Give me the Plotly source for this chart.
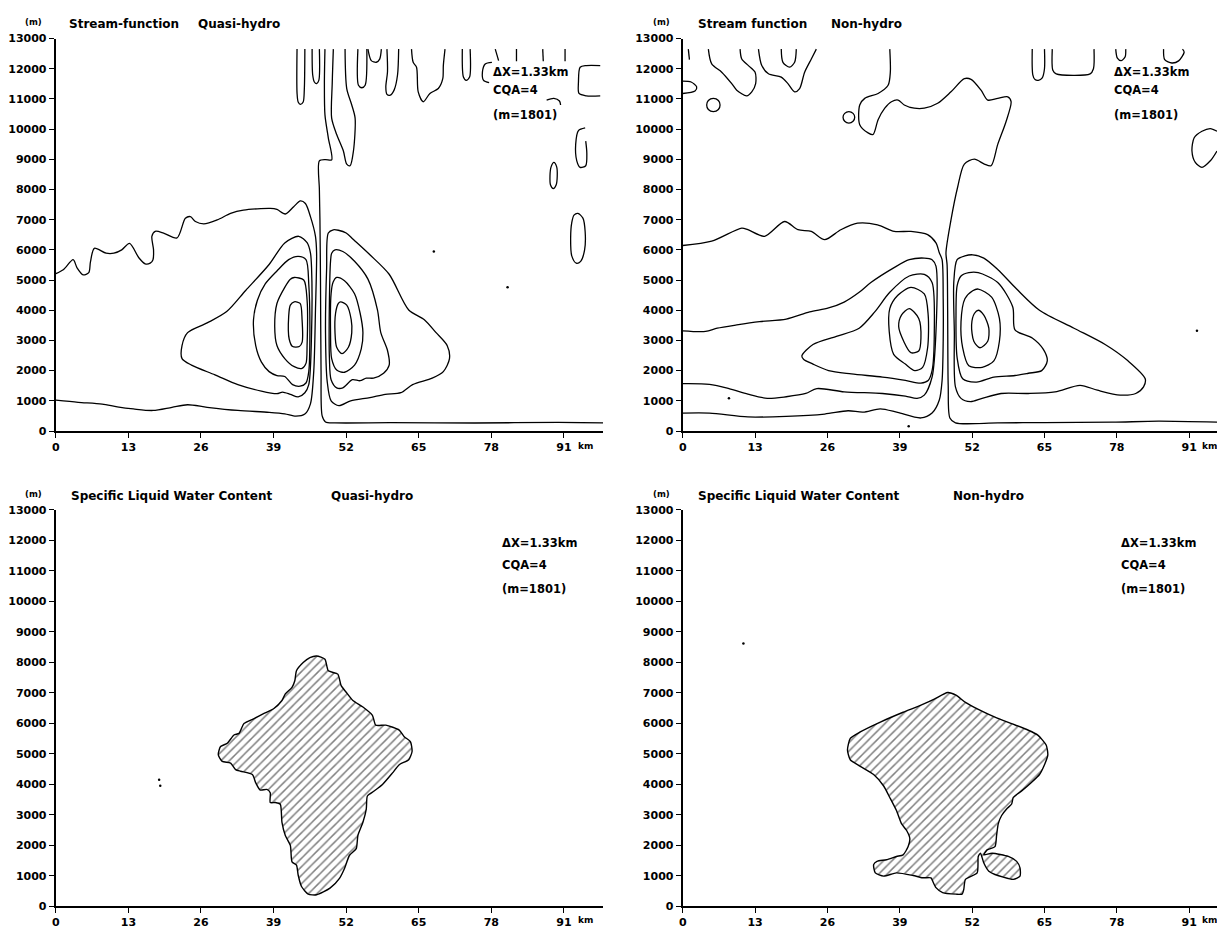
import plotly.graph_objects as go

# ---------------- axis ticks ----------------
X_TICKS = [0, 13, 26, 39, 52, 65, 78, 91]
X_TICK_TEXT = ["0", "13", "26", "39", "52", "65", "78", "91"]
Y_TICKS = [0, 1000, 2000, 3000, 4000, 5000, 6000, 7000, 8000, 9000, 10000, 11000, 12000, 13000]
Y_TICK_TEXT = [str(v) for v in Y_TICKS]

# ---------------- Panel 1: Stream-function, Quasi-hydro (km, m) ----------------
TL_AB_X = [0, 4, 8.3, 11, 13.9, 17.4, 20.8, 23.6, 27.1, 32.6, 38.2, 41.0, 43.0, 44.6, 45.6, 46.2, 46.5, 46.7, 46.5, 45.6, 44.7, 43.8, 42.6, 41.1, 39.6, 38.4, 33.6, 31.3, 28.9, 26.5, 25.0, 24.1, 23.2, 21.7, 19.3, 17.8, 17.2, 17.5, 17.4, 16.9, 16.0, 14.9, 13.2, 11.8, 10.4, 9.0, 6.9, 6.2, 5.9, 4.9, 3.8, 3.1, 1.4, 0]
TL_AB_Y = [1020, 950, 890, 800, 730, 680, 785, 870, 785, 680, 620, 570, 490, 560, 900, 2000, 4000, 5905, 6450, 7102, 7537, 7625, 7428, 7188, 7340, 7374, 7318, 7210, 6992, 6862, 6939, 7102, 7047, 6395, 6558, 6613, 6450, 6000, 5676, 5560, 5536, 5730, 6213, 6000, 5890, 5890, 6052, 5600, 5246, 5171, 5407, 5676, 5353, 5214]
TL_L1_X = [42.7, 43.75, 44.1, 44.1, 43.6, 42.4, 41.8, 41.7, 42.0, 42.7]
TL_L1_Y = [4280, 4225, 3690, 2935, 2800, 2800, 3040, 3795, 4170, 4280]
TL_L2_X = [42.7, 44.4, 45.0, 45.0, 44.8, 44.1, 42.7, 41.0, 39.6, 39.2, 39.6, 41.0, 42.0, 42.7]
TL_L2_Y = [5085, 5000, 4330, 2830, 2240, 2075, 2130, 2400, 2830, 3470, 4225, 4760, 5030, 5085]
TL_L3_X = [43.4, 44.8, 45.3, 45.5, 45.3, 44.8, 43.75, 42.4, 41.0, 39.6, 38.2, 36.8, 35.8, 35.4, 36.1, 37.5, 39.6, 41.7, 43.4]
TL_L3_Y = [5785, 5675, 4870, 3257, 1967, 1590, 1485, 1537, 1806, 1838, 1967, 2290, 2827, 3687, 4332, 4870, 5300, 5676, 5785]
TL_L4_X = [43.5, 41.0, 38.2, 34.0, 30.6, 27.1, 23.6, 22.6, 22.6, 24.3, 28.5, 32.6, 36.8, 39.6, 40.6, 42.0, 43.4, 44.6, 45.3, 45.8, 45.8, 45.6, 45.0, 43.5]
TL_L4_Y = [6450, 6230, 5515, 4655, 3956, 3580, 3257, 2827, 2397, 2182, 1860, 1537, 1322, 1236, 1290, 1215, 1129, 1268, 1537, 3257, 5400, 5900, 6236, 6450]
TL_R1_X = [51.0, 52.1, 52.9, 53.0, 52.4, 51.25, 50.3, 50.0, 50.1, 50.6, 51.0]
TL_R1_Y = [4280, 4170, 3687, 3257, 2773, 2560, 2773, 3257, 3900, 4225, 4280]
TL_R2_X = [50.3, 51.7, 53.5, 54.5, 55.0, 54.7, 53.5, 51.7, 50.3, 49.4, 49.2, 49.3, 49.65, 50.3]
TL_R2_Y = [5085, 4977, 4547, 3900, 3257, 2720, 2182, 1946, 2020, 2397, 3257, 4547, 4924, 5085]
TL_R3_X = [50.0, 51.4, 53.5, 55.9, 57.6, 58.2, 59.4, 59.7, 58.7, 56.9, 55.6, 54.5, 53.1, 51.4, 50.3, 49.3, 49.0, 49.0, 49.2, 49.4, 50.0]
TL_R3_Y = [6000, 5945, 5622, 5030, 4010, 3257, 2666, 2182, 1913, 1752, 1752, 1666, 1700, 1430, 1430, 1700, 2397, 4332, 5622, 5890, 6000]
TL_R4_X = [49.7, 50.6, 52.0, 53.3, 56.25, 59.7, 63.2, 66.0, 68.1, 70.1, 70.5, 69.4, 67.4, 63.9, 61.8, 59.0, 56.25, 52.8, 50.7, 49.3, 48.6, 48.3, 48.5, 48.8, 49.7]
TL_R4_Y = [6666, 6650, 6560, 6340, 5837, 5192, 4010, 3687, 3257, 2827, 2397, 1967, 1752, 1537, 1268, 1215, 1107, 1000, 838, 1000, 1645, 3257, 5400, 6558, 6666]
TL_V_X = [98, 90, 75, 60, 50, 48.3, 47.7, 47.5, 47.4, 47.3, 47.2, 47.2, 48.3, 49.4, 48.8, 48.2, 48.1, 48.2]
TL_V_Y = [270, 285, 265, 275, 270, 300, 500, 2000, 5000, 7000, 8000, 8950, 8990, 8980, 9712, 10473, 11500, 12650]
TL_U1_X = [43.2, 43.2, 43.4, 43.8, 44.3, 44.5, 44.6]
TL_U1_Y = [12650, 11200, 10900, 10822, 10900, 11300, 12650]
TL_U2_X = [45.9, 46.0, 46.3, 46.7, 47.1, 47.2]
TL_U2_Y = [12650, 11800, 11560, 11507, 11615, 12650]
TL_U3_X = [49.7, 49.5, 49.4, 50.3, 51.5, 52.1, 52.7, 53.3, 53.6, 53.0, 52.1, 51.8]
TL_U3_Y = [12650, 11500, 10364, 9820, 9275, 8840, 8787, 9275, 10364, 10800, 11344, 12650]
TL_U4_X = [54.1, 54.2, 54.8, 55.4, 55.7]
TL_U4_Y = [12650, 11453, 11370, 11453, 12650]
TL_U5_X = [55.9, 56.5, 57.4, 58.0, 58.3]
TL_U5_Y = [12650, 12270, 12215, 12320, 12650]
TL_U6_X = [59.3, 59.4, 59.1, 59.3, 59.9, 60.6, 61.2, 61.4]
TL_U6_Y = [12650, 11900, 11400, 11150, 11125, 11300, 11800, 12650]
TL_U7_X = [63.7, 64.0, 64.6, 64.9, 65.8, 67.0, 68.5, 69.3, 69.4, 69.7]
TL_U7_Y = [12650, 12213, 12050, 11235, 10907, 11180, 11344, 11670, 12104, 12650]
TL_U8_X = [72.8, 73.0, 73.5, 74.1, 74.2]
TL_U8_Y = [12650, 11724, 11615, 11724, 12650]
TL_B9_X = [78.1, 76.9, 76.4, 76.6, 77.6]
TL_B9_Y = [12213, 12160, 11886, 11615, 11540]
TL_TICKS_X = [78.7, 79.3, None, 82.5, 82.5, None, 87.2, 87.3, None, 91.2, 91.2]
TL_TICKS_Y = [12650, 12267, None, 12650, 12250, None, 12650, 12250, None, 12650, 12250]
TL_ARC_X = [87.9, 89.2, 90.2, 90.4]
TL_ARC_Y = [10962, 11018, 10930, 10800]
TL_B12_X = [97.5, 95.0, 93.9, 93.6, 93.7, 95.0, 97.5]
TL_B12_Y = [12104, 12104, 12050, 11560, 11180, 11102, 11102]
TL_C13_X = [94.8, 93.6, 93.1, 93.3, 93.9, 94.9, 95.1, 94.9]
TL_C13_Y = [10040, 9950, 9494, 8950, 8734, 8787, 9200, 9600]
TL_E14_X = [89.2, 89.7, 89.8, 89.6, 89.1, 88.6, 88.5, 88.7, 89.2]
TL_E14_Y = [8900, 8750, 8450, 8150, 8030, 8150, 8450, 8750, 8900]
TL_E15_X = [93.5, 94.4, 94.8, 94.7, 94.0, 93.2, 92.4, 92.2, 92.4, 92.8, 93.5]
TL_E15_Y = [7210, 7050, 6600, 6000, 5620, 5560, 5800, 6400, 6900, 7150, 7210]
TL_DOTS_X = [67.7, 80.9]
TL_DOTS_Y = [5945, 4760]

# ---------------- Panel 2: Stream function, Non-hydro ----------------
TR_C1_X = [0, 4.8, 11.7, 18.6, 25.5, 29.7, 32.4, 35.5, 38.6, 42.8, 44.8, 46.1, 46.6, 46.8, 46.8, 46.6, 46.1, 45.5, 44.0, 41.0, 38.0, 35.0, 31.4, 28.4, 25.5, 23.1, 20.7, 18.3, 14.7, 11.7, 10.6, 5.2, 0]
TR_C1_Y = [595, 595, 465, 486, 562, 670, 627, 735, 616, 432, 595, 1027, 1675, 3000, 4378, 5675, 5905, 6232, 6504, 6612, 6612, 6830, 6884, 6667, 6341, 6612, 6667, 6939, 6450, 6667, 6721, 6287, 6144]
TR_C2_X = [0, 4.8, 8.3, 11.7, 15.2, 18.6, 22.1, 24.1, 29.0, 35.9, 40.0, 42.1, 43.4, 44.8, 45.5, 45.5, 44.8, 43.4, 40.7, 37.9, 33.8, 31.7, 29.0, 26.2, 22.8, 18.6, 13.8, 9.7, 6.2, 4.1, 0]
TR_C2_Y = [1567, 1546, 1405, 1222, 1081, 1135, 1243, 1405, 1297, 1243, 1157, 1081, 1189, 1784, 3297, 5459, 5675, 5729, 5675, 5405, 4919, 4594, 4270, 4075, 3946, 3708, 3621, 3513, 3405, 3297, 3318]
TR_L3_X = [21.4, 23.4, 27.6, 31.7, 34.5, 37.2, 40.7, 43.4, 44.8, 45.2, 44.8, 44.1, 42.8, 40.0, 35.9, 30.3, 26.2, 23.4, 21.7, 21.4]
TR_L3_Y = [2486, 2865, 3135, 3405, 3946, 4594, 5135, 5189, 4919, 3297, 2000, 1675, 1589, 1675, 1784, 1892, 2000, 2216, 2378, 2486]
TR_L2_X = [41.0, 43.4, 44.1, 44.0, 43.1, 41.7, 40.0, 37.9, 37.1, 37.2, 38.6, 41.0]
TR_L2_Y = [4756, 4540, 3838, 2757, 2108, 2000, 2216, 2540, 3297, 4054, 4486, 4756]
TR_L1_X = [40.7, 42.4, 42.8, 42.4, 41.0, 39.7, 38.8, 39.3, 40.7]
TR_L1_Y = [4054, 3729, 3081, 2648, 2594, 2973, 3459, 3838, 4054]
TR_R1_X = [53.1, 54.1, 55.0, 54.8, 53.4, 52.3, 51.9, 52.4, 53.1]
TR_R1_Y = [4000, 3838, 3405, 2973, 2757, 2973, 3513, 3892, 4000]
TR_R2_X = [53.1, 55.5, 56.9, 56.9, 55.9, 53.8, 51.4, 50.3, 50.0, 50.7, 52.1, 53.1]
TR_R2_Y = [4702, 4432, 3729, 2973, 2324, 2108, 2162, 2757, 3621, 4378, 4648, 4702]
TR_R3_X = [53.1, 56.6, 59.3, 59.7, 62.8, 64.8, 65.5, 64.5, 62.1, 59.7, 55.9, 52.8, 50.3, 49.3, 49.1, 49.3, 50.0, 51.4, 53.1]
TR_R3_Y = [5243, 4919, 4108, 3351, 3081, 2703, 2324, 2000, 1913, 1838, 1784, 1622, 1730, 2432, 3838, 4810, 5135, 5243, 5243]
TR_R4_X = [52.1, 54.1, 56.6, 60.0, 64.1, 70.3, 75.9, 80.0, 83.1, 82.8, 81.4, 78.6, 74.5, 71.4, 66.9, 62.1, 57.2, 53.8, 51.7, 50.0, 49.0, 48.8, 48.7, 49.3, 50.7, 52.1]
TR_R4_Y = [5837, 5729, 5351, 4702, 4000, 3405, 2865, 2324, 1730, 1459, 1243, 1189, 1351, 1513, 1297, 1243, 1243, 1081, 973, 1081, 1459, 3297, 4919, 5675, 5800, 5837]
TR_V_X = [96, 85.5, 77.2, 65, 56.6, 49.0, 48.0, 47.7, 47.6, 47.5, 47.3, 48.2, 49.4, 50.6, 52.4, 54.2, 55.4, 56.6, 58.1, 59.0, 58.4, 56.6, 54.8, 53.6, 51.8, 50.6, 48.2, 45.8, 43.4, 41.6, 39.8, 38.7, 37.5, 36.3, 35.1, 34.2, 33.3, 31.8, 31.8, 32.7, 35.1, 36.9, 37.3, 37.2]
TR_V_Y = [292, 324, 292, 280, 270, 270, 432, 1500, 4000, 5500, 5905, 6992, 8082, 8842, 9005, 8842, 8787, 9494, 10254, 10907, 11070, 11018, 10962, 11289, 11648, 11670, 11234, 10855, 10692, 10692, 10800, 10962, 10907, 10692, 10310, 9820, 9876, 10147, 10800, 11018, 11181, 11452, 11886, 12650]
TR_T0_X = [1.0, 1.2]
TR_T0_Y = [12650, 12300]
TR_T1_X = [0, 1.5, 2.5, 2.2, 0]
TR_T1_Y = [11590, 11560, 11400, 11260, 11180]
TR_T2_X = [5.5, 6.4, 6.7, 6.4, 5.5, 4.6, 4.3, 4.6, 5.5]
TR_T2_Y = [11018, 10950, 10800, 10650, 10580, 10650, 10800, 10950, 11018]
TR_T3_X = [4.6, 5.2, 7.0, 8.8, 9.7, 11.5, 12.4, 13.1, 13.0, 11.8, 10.6, 10.3]
TR_T3_Y = [12650, 12160, 11886, 11507, 11289, 11102, 11234, 11507, 11886, 12104, 12323, 12650]
TR_T4_X = [13.6, 14.2, 15.4, 17.7, 18.9, 20.1, 21.0, 21.9, 23.1, 24.0]
TR_T4_Y = [12650, 12104, 11833, 11724, 11507, 11234, 11342, 11886, 12323, 12650]
TR_T5_X = [17.7, 18.0, 19.2, 20.1, 20.4]
TR_T5_Y = [12650, 12213, 12050, 12213, 12650]
TR_T6_X = [29.85, 30.6, 30.9, 30.6, 29.85, 29.1, 28.8, 29.1, 29.85]
TR_T6_Y = [10580, 10520, 10390, 10260, 10200, 10260, 10390, 10520, 10580]
TR_T7_X = [62.8, 62.9, 63.3, 63.9, 64.6, 65.0, 65.0]
TR_T7_Y = [12650, 11800, 11640, 11615, 11700, 12000, 12650]
TR_T8_X = [66.4, 66.5, 67.1, 73.2, 73.8, 73.9]
TR_T8_Y = [12650, 11950, 11830, 11830, 12000, 12650]
TR_T9_X = [77.8, 78.1, 78.8, 79.5, 79.6]
TR_T9_Y = [12650, 12350, 12267, 12400, 12650]
TR_T10_X = [86.4, 86.6, 87.9, 89.1, 90.1, 89.8]
TR_T10_Y = [12650, 12300, 12190, 12260, 12550, 12650]
TR_T11_X = [96, 94.8, 93.3, 91.9, 91.5, 92.1, 93.3, 94.8, 96]
TR_T11_Y = [9928, 10016, 9928, 9713, 9276, 8897, 8734, 8950, 9276]
TR_DOTS_X = [92.4, 8.3, 40.6]
TR_DOTS_Y = [3318, 1081, 160]

# ---------------- Panel 3: Liquid water, Quasi-hydro ----------------
BL_X = [46.7, 48.2, 48.8, 50.5, 51.1, 52.0, 53.2, 55.0, 56.7, 57.3, 59.1, 61.5, 62.4, 63.5, 63.8, 63.2, 61.5, 60.3, 58.5, 57.0, 55.8, 55.6, 55.0, 54.1, 53.8, 52.6, 51.7, 50.8, 49.1, 46.7, 45.2, 44.0, 43.4, 43.1, 42.3, 42.0, 41.1, 40.5, 40.2, 39.3, 38.4, 38.4, 37.8, 36.6, 35.8, 35.2, 33.1, 32.2, 31.3, 29.8, 29.1, 29.5, 30.7, 31.9, 32.8, 33.7, 35.5, 37.2, 39.0, 40.5, 41.1, 42.3, 42.8, 43.1, 44.3, 45.5, 46.7]
BL_Y = [8208, 8100, 7722, 7614, 7236, 7020, 6750, 6534, 6264, 5940, 5940, 5778, 5562, 5400, 5076, 4806, 4644, 4374, 3996, 3780, 3618, 3186, 2754, 2322, 1890, 1674, 1242, 918, 594, 378, 400, 648, 1026, 1350, 1458, 1998, 2322, 2754, 3348, 3402, 3402, 3726, 3834, 3812, 4050, 4320, 4428, 4482, 4698, 4752, 4968, 5238, 5346, 5616, 5670, 5994, 6156, 6318, 6480, 6750, 6966, 7182, 7398, 7722, 7992, 8154, 8208]
BL_DOTS_X = [18.5, 18.7]
BL_DOTS_Y = [4150, 3950]

# ---------------- Panel 4: Liquid water, Non-hydro ----------------
BR_X = [47.6, 49.1, 50.8, 53.2, 56.1, 59.1, 62.1, 63.8, 65.3, 65.6, 65.0, 64.1, 62.6, 60.9, 59.4, 59.1, 58.2, 57.3, 56.7, 56.4, 56.1, 54.7, 54.1, 55.6, 58.5, 60.0, 60.6, 60.6, 59.4, 56.1, 55.0, 54.1, 53.5, 53.1, 52.9, 50.8, 50.5, 50.2, 49.1, 46.7, 45.5, 44.9, 44.6, 43.1, 41.4, 38.4, 36.1, 34.6, 34.3, 34.9, 36.6, 38.4, 39.6, 40.5, 40.8, 40.2, 39.3, 38.4, 37.2, 36.1, 34.3, 31.9, 30.1, 29.6, 30.1, 31.9, 35.5, 39.6, 42.6, 45.2, 47.6]
BR_Y = [7009, 6923, 6687, 6450, 6203, 5988, 5773, 5612, 5289, 4967, 4644, 4322, 4053, 3784, 3569, 3354, 3193, 2978, 2709, 2333, 1957, 1849, 1688, 1742, 1634, 1473, 1258, 989, 882, 1043, 1150, 1419, 1742, 1634, 1096, 882, 559, 398, 398, 451, 613, 828, 935, 935, 1011, 1097, 989, 1097, 1365, 1473, 1527, 1634, 1688, 1957, 2225, 2494, 2709, 3139, 3569, 3945, 4322, 4590, 4805, 5128, 5504, 5719, 6042, 6364, 6579, 6794, 7009]
BR_DOTS_X = [10.9]
BR_DOTS_Y = [8622]

# ---------------- figure ----------------
W, H = 1217, 934
FONT = "DejaVu Sans"
fig = go.Figure()

def line(xs, ys, ax, smooth=True):
    fig.add_trace(go.Scatter(x=xs, y=ys, mode="lines", xaxis=ax[0], yaxis=ax[1],
                             line=dict(color="black", width=1.3,
                                       shape="spline" if smooth else "linear", smoothing=0.8),
                             hoverinfo="skip", showlegend=False))

def dots(xs, ys, ax):
    fig.add_trace(go.Scatter(x=xs, y=ys, mode="markers", xaxis=ax[0], yaxis=ax[1],
                             marker=dict(color="black", size=2.5), hoverinfo="skip", showlegend=False))

A1, A2, A3, A4 = ("x", "y"), ("x2", "y2"), ("x3", "y3"), ("x4", "y4")

for xs, ys in [(TL_AB_X, TL_AB_Y), (TL_L1_X, TL_L1_Y), (TL_L2_X, TL_L2_Y), (TL_L3_X, TL_L3_Y),
               (TL_L4_X, TL_L4_Y), (TL_R1_X, TL_R1_Y), (TL_R2_X, TL_R2_Y), (TL_R3_X, TL_R3_Y),
               (TL_R4_X, TL_R4_Y), (TL_V_X, TL_V_Y), (TL_U1_X, TL_U1_Y), (TL_U2_X, TL_U2_Y),
               (TL_U3_X, TL_U3_Y), (TL_U4_X, TL_U4_Y), (TL_U5_X, TL_U5_Y), (TL_U6_X, TL_U6_Y),
               (TL_U7_X, TL_U7_Y), (TL_U8_X, TL_U8_Y), (TL_B9_X, TL_B9_Y), (TL_ARC_X, TL_ARC_Y),
               (TL_B12_X, TL_B12_Y), (TL_C13_X, TL_C13_Y), (TL_E14_X, TL_E14_Y), (TL_E15_X, TL_E15_Y)]:
    line(xs, ys, A1)
line(TL_TICKS_X, TL_TICKS_Y, A1, smooth=False)
dots(TL_DOTS_X, TL_DOTS_Y, A1)

for xs, ys in [(TR_C1_X, TR_C1_Y), (TR_C2_X, TR_C2_Y), (TR_L3_X, TR_L3_Y), (TR_L2_X, TR_L2_Y),
               (TR_L1_X, TR_L1_Y), (TR_R1_X, TR_R1_Y), (TR_R2_X, TR_R2_Y), (TR_R3_X, TR_R3_Y),
               (TR_R4_X, TR_R4_Y), (TR_V_X, TR_V_Y), (TR_T0_X, TR_T0_Y), (TR_T1_X, TR_T1_Y),
               (TR_T2_X, TR_T2_Y), (TR_T3_X, TR_T3_Y), (TR_T4_X, TR_T4_Y), (TR_T5_X, TR_T5_Y),
               (TR_T6_X, TR_T6_Y), (TR_T7_X, TR_T7_Y), (TR_T8_X, TR_T8_Y), (TR_T9_X, TR_T9_Y),
               (TR_T10_X, TR_T10_Y), (TR_T11_X, TR_T11_Y)]:
    line(xs, ys, A2)
dots(TR_DOTS_X, TR_DOTS_Y, A2)

hatch = dict(shape="/", size=6, solidity=0.25, fgcolor="black", bgcolor="white")
for xs, ys, ax in [(BL_X, BL_Y, A3), (BR_X, BR_Y, A4)]:
    fig.add_trace(go.Scatter(x=xs, y=ys, mode="lines", xaxis=ax[0], yaxis=ax[1], fill="toself",
                             fillpattern=hatch, fillcolor="white",
                             line=dict(color="black", width=1.4, shape="spline", smoothing=0.6),
                             hoverinfo="skip", showlegend=False))
dots(BL_DOTS_X, BL_DOTS_Y, A3)
dots(BR_DOTS_X, BR_DOTS_Y, A4)

# ---------------- axes ----------------
LEFT_DOM = [52 / W, 601 / W]
RIGHT_DOM = [681 / W, 1.0]
TOP_DOM = [1 - 431 / H, 1 - 33 / H]
BOT_DOM = [1 - 913 / H, 1 - 511 / H]
tickfont = dict(family=FONT, size=11, color="black", weight="bold")

def xax(dom, rng, anchor):
    return dict(domain=dom, range=rng, anchor=anchor, tickvals=X_TICKS, ticktext=X_TICK_TEXT,
                showline=True, linecolor="black", linewidth=1.6, ticks="outside", ticklen=5,
                tickwidth=1.3, tickcolor="black", showgrid=False, zeroline=False, tickfont=tickfont,
                fixedrange=True)

def yax(dom, anchor):
    return dict(domain=dom, range=[0, 13000], anchor=anchor, tickvals=Y_TICKS, ticktext=Y_TICK_TEXT,
                showline=True, linecolor="black", linewidth=2.2, ticks="outside", ticklen=5,
                tickwidth=1.3, tickcolor="black", showgrid=False, zeroline=False, tickfont=tickfont,
                fixedrange=True)

fig.update_layout(
    width=W, height=H, margin=dict(l=0, r=0, t=0, b=0),
    paper_bgcolor="white", plot_bgcolor="white", showlegend=False,
    xaxis=xax(LEFT_DOM, [0, 98], "y"), yaxis=yax(TOP_DOM, "x"),
    xaxis2=xax(RIGHT_DOM, [0, 96], "y2"), yaxis2=yax(TOP_DOM, "x2"),
    xaxis3=xax(LEFT_DOM, [0, 98], "y3"), yaxis3=yax(BOT_DOM, "x3"),
    xaxis4=xax(RIGHT_DOM, [0, 96], "y4"), yaxis4=yax(BOT_DOM, "x4"),
)

# ---------------- text ----------------
def ann(text, x, y, size=12, xanchor="left", xref="paper", yref="paper"):
    fig.add_annotation(text=text, x=x, y=y, xref=xref, yref=yref, showarrow=False,
                       xanchor=xanchor, yanchor="middle",
                       font=dict(family=FONT, size=size, color="black", weight="bold"))

def P(px):
    return px / W

def Q(py):
    return 1 - py / H

# titles
ann("(m)", P(30), Q(16), size=8.5, xanchor="center")
ann("Stream-function", P(63), Q(18))
ann("Quasi-hydro", P(193), Q(18))
ann("(m)", P(660), Q(16), size=8.5, xanchor="center")
ann("Stream function", P(694), Q(18))
ann("Non-hydro", P(828), Q(18))
ann("(m)", P(30), Q(495), size=8.5, xanchor="center")
ann("Specific Liquid Water Content", P(65), Q(497))
ann("Quasi-hydro", P(326), Q(497))
ann("(m)", P(660), Q(495), size=8.5, xanchor="center")
ann("Specific Liquid Water Content", P(694), Q(497))
ann("Non-hydro", P(950), Q(497))

# parameter labels
for ax, x0, ys in [("x", 77.9, [(11880, "y"), (11290, "y"), (10470, "y")]),
                   ("x2", 77.2, [(11880, "y2"), (11290, "y2"), (10470, "y2")]),
                   ("x3", 79.5, [(11900, "y3"), (11200, "y3"), (10400, "y3")]),
                   ("x4", 78.3, [(11900, "y4"), (11200, "y4"), (10400, "y4")])]:
    for (yv, yr), txt in zip(ys, ["ΔX=1.33km", "CQA=4", "(m=1801)"]):
        ann(txt, x0, yv, size=11.5, xref=ax, yref=yr)

# "km" unit after the last x tick
ann("km", 93.2, Q(446), size=9, xref="x")
ann("km", 93.0, Q(446), size=9, xref="x2")
ann("km", 93.2, Q(927), size=9, xref="x3")
ann("km", 93.0, Q(927), size=9, xref="x4")

fig.write_html("out.html", config={"displayModeBar": False},
               post_script="document.body.style.margin='0';document.body.style.overflow='hidden';")
